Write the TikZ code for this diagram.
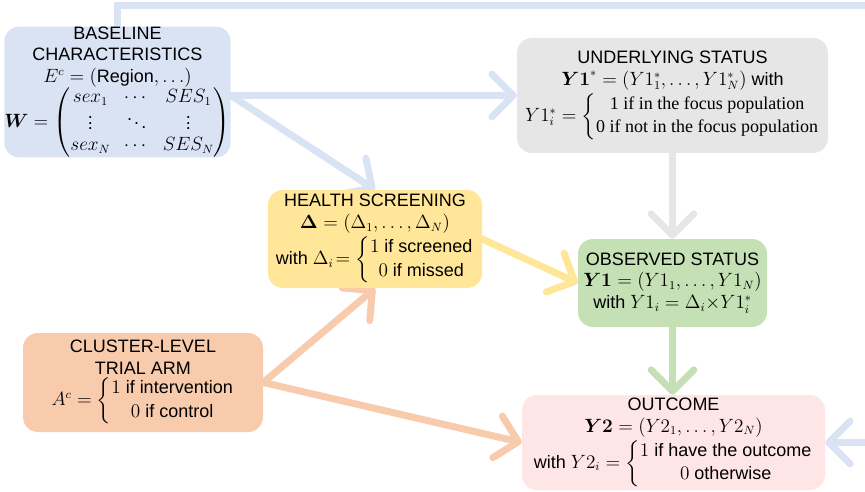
\documentclass[tikz,border=0pt]{standalone}
\usepackage{amsmath}
\usepackage{bm}
\usepackage{fontspec}
\setmainfont{Liberation Sans}
\newfontfamily\serifcm{Liberation Serif}
\usetikzlibrary{arrows.meta,backgrounds}
\definecolor{cblue}{HTML}{DAE3F3}
\definecolor{cgray}{HTML}{E7E6E6}
\definecolor{cyellow}{HTML}{FFE699}
\definecolor{cgreen}{HTML}{C5E0B4}
\definecolor{corange}{HTML}{F8CBAD}
\definecolor{cpink}{HTML}{FFE6E6}
\newcommand\casesc[1]{\left\{\def\arraystretch{1.1}\begin{array}{@{}c@{}}#1\end{array}\right.}
\begin{document}
\begin{tikzpicture}[x=0.75pt,y=-0.75pt,
  box/.style={rounded corners=11.25pt, inner sep=0pt, align=center,
    font=\fontsize{13.5}{16.2}\selectfont},
  arr/.style={line width=5.25pt, line cap=round,
    -{Straight Barb[length=16pt,width=32pt,round]}}]
\clip (0,0) rectangle (865,492);
\useasboundingbox (0,0) rectangle (865,492);

\node[box, fill=cblue, minimum width=165.75pt, minimum height=97.5pt] (base) at (117.5,92)
  {BASELINE\\CHARACTERISTICS\\$E^c=(\mathrm{Region},\ldots)$\\[-1pt]
   $\boldsymbol{W}=\begin{pmatrix} sex_1 & \cdots & SES_1\\ \vdots & \ddots & \vdots\\ sex_N & \cdots & SES_N\end{pmatrix}$};

\node[box, fill=cgray, minimum width=233.25pt, minimum height=86.25pt] (und) at (672.5,95.5)
  {UNDERLYING STATUS\\$\boldsymbol{Y1}^*=(Y1^*_1,\ldots,Y1^*_N)$ with\\[1pt]
   $Y1^*_i=\casesc{\text{\serifcm 1 if in the focus population}\\ \text{\serifcm 0 if not in the focus population}}$};

\node[box, fill=cyellow, minimum width=160.5pt, minimum height=73.5pt] (hs) at (375,239)
  {HEALTH SCREENING\\$\boldsymbol{\Delta}=(\Delta_1,\ldots,\Delta_N)$\\[1pt]
   with $\Delta_i\!=\casesc{1\text{ if screened}\\ 0\text{ if missed}}$};

\node[box, fill=cgreen, minimum width=141.75pt, minimum height=66pt] (obs) at (672.5,283)
  {OBSERVED STATUS\\$\boldsymbol{Y1}=(Y1_1,\ldots,Y1_N)$\\
   with $Y1_i=\Delta_i{\times}Y1^*_i$};

\node[box, fill=corange, minimum width=180pt, minimum height=74.25pt] (cl) at (143,382.5)
  {CLUSTER-LEVEL\\TRIAL ARM\\[1pt]
   $A^c=\casesc{1\text{ if intervention}\\ 0\text{ if control}}$};

\node[box, fill=cpink, minimum width=227.25pt, minimum height=71.25pt] (out) at (673.5,442.5)
  {OUTCOME\\$\boldsymbol{Y2}=(Y2_1,\ldots,Y2_N)$\\[1pt]
   with $Y2_i=\casesc{1\text{ if have the outcome}\\ 0\text{ otherwise}}$};

\coordinate (tr) at (885,6);
\begin{scope}[on background layer]
  \draw[line width=5.25pt, cblue, -{Straight Barb[length=16pt,width=32pt,round]}]
    (base.north) |- (tr) |- (out.east);
  \draw[arr, cblue] (base.east |- und.west) -- (und.west);
  \draw[arr, cblue] (base.east |- und.west) -- (hs.north);
  \draw[arr, cgray] (und.south) -- (obs.north);
  \draw[arr, cyellow] (hs.east) -- (obs.west);
  \draw[arr, cgreen] (obs.south) -- (obs.south |- out.north);
  \draw[arr, corange] (cl.east) -- (hs.south);
  \draw[arr, corange] (cl.east) -- (out.west);
\end{scope}
\end{tikzpicture}
\end{document}
